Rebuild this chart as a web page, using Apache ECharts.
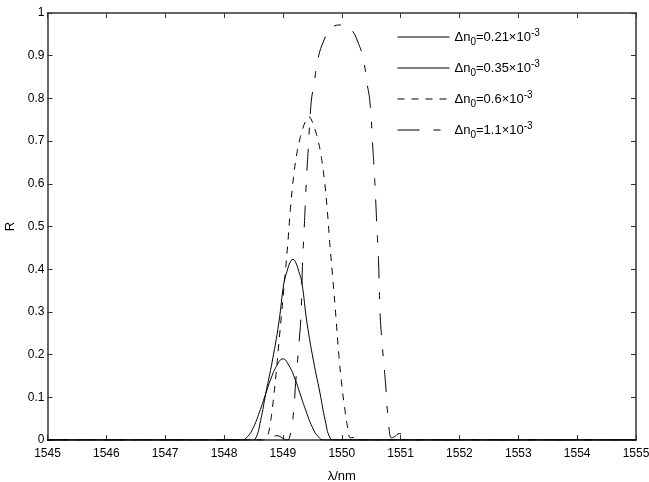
<!DOCTYPE html>
<html>
<head>
<meta charset="utf-8">
<script src="https://cdn.jsdelivr.net/npm/echarts@6/dist/echarts.min.js"></script>
<style>
html,body{margin:0;padding:0;background:#fff;}
#chart{width:649px;height:482px;}
</style>
</head>
<body>
<div id="chart"></div>
<script>
// ---- data ----
const xTicks = [1545, 1546, 1547, 1548, 1549, 1550, 1551, 1552, 1553, 1554, 1555];
const yTicks = [0, 0.1, 0.2, 0.3, 0.4, 0.5, 0.6, 0.7, 0.8, 0.9, 1];
const deltaN = ['0.21', '0.35', '0.6', '1.1'];

// Δn0 = 0.21e-3  [lambda (nm), R]
const curve021 = [
  [1545, 0], [1548.3, 0], [1548.4, 0.008], [1548.5, 0.03], [1548.6, 0.065], [1548.7, 0.105],
  [1548.8, 0.145], [1548.9, 0.175], [1549.0, 0.19], [1549.1, 0.175], [1549.2, 0.145],
  [1549.3, 0.105], [1549.4, 0.065], [1549.5, 0.03], [1549.6, 0.008], [1549.7, 0], [1555, 0]
];
// Δn0 = 0.35e-3
const curve035 = [
  [1545, 0], [1548.47, 0], [1548.54, 0.005], [1548.62, 0.045], [1548.71, 0.11], [1548.82, 0.185],
  [1548.93, 0.274], [1549.02, 0.37], [1549.07, 0.395], [1549.12, 0.415], [1549.17, 0.423],
  [1549.22, 0.415], [1549.27, 0.395], [1549.32, 0.37], [1549.41, 0.274], [1549.52, 0.185],
  [1549.63, 0.11], [1549.72, 0.045], [1549.8, 0.005], [1549.87, 0], [1555, 0]
];
// Δn0 = 0.6e-3
const curve060 = [
  [1545, 0], [1548.68, 0], [1548.73, 0.006], [1548.78, 0.035], [1548.83, 0.085], [1548.88, 0.15],
  [1548.93, 0.225], [1548.98, 0.3], [1549.03, 0.375], [1549.08, 0.455], [1549.13, 0.545],
  [1549.18, 0.615], [1549.23, 0.665], [1549.28, 0.7], [1549.33, 0.725], [1549.38, 0.745],
  [1549.44, 0.757], [1549.5, 0.745], [1549.55, 0.725], [1549.6, 0.7], [1549.65, 0.665],
  [1549.7, 0.615], [1549.75, 0.545], [1549.8, 0.455], [1549.85, 0.375], [1549.9, 0.29],
  [1549.95, 0.2], [1550.0, 0.13], [1550.05, 0.075], [1550.1, 0.03], [1550.15, 0.005],
  [1550.2, 0.006], [1550.26, 0], [1555, 0]
];
// Δn0 = 1.1e-3
const curve110 = [
  [1545, 0], [1548.7, 0], [1548.8, 0.007], [1548.9, 0.01], [1549.0, 0.004], [1549.07, 0],
  [1549.11, 0.005], [1549.17, 0.05], [1549.22, 0.14], [1549.27, 0.22], [1549.31, 0.3],
  [1549.335, 0.42], [1549.36, 0.49], [1549.4, 0.61], [1549.43, 0.68], [1549.48, 0.79],
  [1549.53, 0.835], [1549.6, 0.895], [1549.7, 0.937], [1549.78, 0.958], [1549.88, 0.97],
  [1549.98, 0.972], [1550.08, 0.97], [1550.18, 0.958], [1550.26, 0.937], [1550.36, 0.895],
  [1550.43, 0.835], [1550.48, 0.79], [1550.53, 0.68], [1550.56, 0.61], [1550.6, 0.49],
  [1550.625, 0.42], [1550.65, 0.3], [1550.69, 0.22], [1550.74, 0.14], [1550.79, 0.05],
  [1550.85, 0.005], [1550.9, 0.008], [1550.98, 0.015], [1551.08, 0.01], [1551.2, 0.002],
  [1551.3, 0], [1555, 0]
];

const curves = [curve021, curve035, curve060, curve110];
const names = deltaN.map(v => 'Δn0=' + v + '×10-3');
const dashTypes = ['solid', 'solid', [7, 7], [22, 14, 7, 14]];

const FONT = '"Liberation Sans", Arial, sans-serif';

const chart = echarts.init(document.getElementById('chart'), null, {renderer: 'canvas'});

function axisBase() {
  return {
    axisLine: {show: true, onZero: false, lineStyle: {color: '#333', width: 1.5}},
    axisTick: {show: true, inside: true, length: 5, lineStyle: {color: '#333', width: 1}},
    splitLine: {show: false}
  };
}

const option = {
  backgroundColor: '#ffffff',
  animation: false,
  grid: {left: 47.5, right: 13, top: 13, bottom: 42, containLabel: false, outerBoundsMode: 'none'},
  legend: {
    show: true,
    orient: 'vertical',
    left: 392,
    top: 23,
    itemWidth: 52,
    itemHeight: 12,
    itemGap: 12,
    selectedMode: false,
    data: names,
    itemStyle: {opacity: 0},
    lineStyle: {width: 1},
    formatter: function (name) {
      const v = name.slice(4, name.indexOf('×'));
      return '{t|Δn}{sub|0}{t|=' + v + '×10}{sup|-3}';
    },
    textStyle: {
      color: '#000',
      fontFamily: FONT,
      fontSize: 13,
      rich: {
        t: {fontSize: 13, fontFamily: FONT, color: '#000'},
        sub: {fontSize: 10, fontFamily: FONT, color: '#000', padding: [10, 0, 0, 0]},
        sup: {fontSize: 10, fontFamily: FONT, color: '#000', padding: [0, 0, 8, 0]}
      }
    }
  },
  xAxis: [
    Object.assign(axisBase(), {
      type: 'value', min: 1545, max: 1555, interval: 1, position: 'bottom',
      name: 'λ/nm', nameLocation: 'middle', nameGap: 30,
      nameTextStyle: {color: '#000', fontFamily: FONT, fontSize: 13},
      axisLabel: {color: '#000', fontFamily: FONT, fontSize: 12, margin: 8,
        formatter: v => xTicks.includes(v) ? String(v) : ''}
    }),
    Object.assign(axisBase(), {
      type: 'value', min: 1545, max: 1555, interval: 1, position: 'top',
      axisLabel: {show: false}
    })
  ],
  yAxis: [
    Object.assign(axisBase(), {
      type: 'value', min: 0, max: 1, interval: 0.1, position: 'left',
      name: 'R', nameLocation: 'middle', nameGap: 27, nameRotate: 90,
      nameTextStyle: {color: '#000', fontFamily: FONT, fontSize: 13},
      axisLabel: {color: '#000', fontFamily: FONT, fontSize: 12, margin: 3,
        formatter: v => {
          const t = yTicks.find(y => Math.abs(y - v) < 1e-9);
          return t === undefined ? '' : String(t);
        }}
    }),
    Object.assign(axisBase(), {
      type: 'value', min: 0, max: 1, interval: 0.1, position: 'right',
      axisLabel: {show: false}
    })
  ],
  series: curves.map((c, i) => ({
    name: names[i],
    type: 'line',
    data: c,
    xAxisIndex: 0,
    yAxisIndex: 0,
    symbol: 'none',
    smooth: 0.5,
    clip: true,
    lineStyle: {color: '#000', width: 1, type: dashTypes[i]},
    itemStyle: {color: '#000'},
    z: 2
  }))
};

chart.setOption(option);
</script>
</body>
</html>
